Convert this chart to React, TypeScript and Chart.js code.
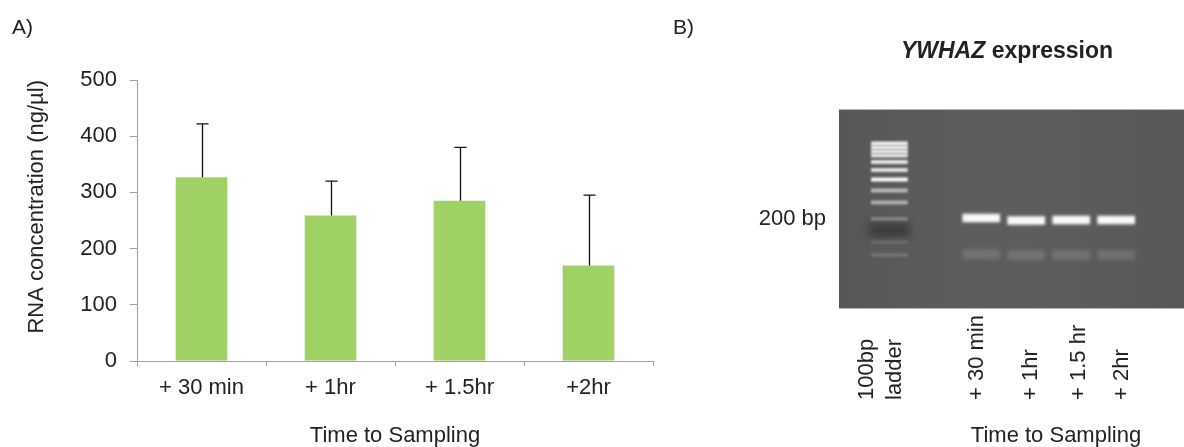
import React, { useEffect, useRef } from "react";
import { Chart, registerables } from "chart.js";

Chart.register(...registerables);

// ---------- Panel A data ----------
const categories = ["+ 30 min", "+ 1hr", "+ 1.5hr", "+2hr"];
const rnaMean = [327, 259, 285, 170];
const rnaSD = [95, 61, 95, 125];
const yTicksMax = 500;
const yTickStep = 100;

// ---------- Panel B (gel) data ----------
// lane positions (lane units), migration distance from gel top (px-like units)
const laneLabels = ["100bp\nladder", "+ 30 min", "+ 1hr", "+ 1.5 hr", "+ 2hr"];
const lanePos = [0, 2.04, 3.04, 4.04, 5.04];
const ladderBandPos = [34.5, 38.5, 42.5, 46.5, 53, 61, 70.5, 81.5, 93.5, 110, 133, 146];
const ladderBandIntensity = [0.92, 0.9, 0.88, 0.85, 0.85, 0.82, 0.97, 0.58, 0.52, 0.3, 0.13, 0.15];
const sampleBandPos = [109, 111.5, 111, 111];
const sampleFaintBandPos = [145, 146, 146, 146];
const ladderDarkSpot = [114, 128];
const markerBandPos = 110; // "200 bp"

const FONT = "'Liberation Sans', Arial, Helvetica, sans-serif";
const TEXT = "#222222";
const AXIS = "#a0a0a0";
const BAR = "#a0d164";

Chart.defaults.font.family = FONT;

export default function App() {
  const refA = useRef<HTMLCanvasElement>(null);
  const refB = useRef<HTMLCanvasElement>(null);

  useEffect(() => {
    document.body.style.margin = "0";
    const errorBars = {
      id: "errorBars",
      afterDatasetsDraw(chart: any) {
        const { ctx } = chart;
        const meta = chart.getDatasetMeta(0);
        const ys = chart.scales.y;
        ctx.save();
        ctx.strokeStyle = "#111";
        ctx.lineWidth = 1.3;
        meta.data.forEach((bar: any, i: number) => {
          const x = Math.round(bar.x) + 0.5;
          const yb = ys.getPixelForValue(rnaMean[i]);
          const yt = ys.getPixelForValue(rnaMean[i] + rnaSD[i]);
          ctx.beginPath();
          ctx.moveTo(x, yb);
          ctx.lineTo(x, yt);
          ctx.moveTo(x - 6, yt);
          ctx.lineTo(x + 6, yt);
          ctx.stroke();
        });
        ctx.restore();
      },
      afterDraw(chart: any) {
        const { ctx } = chart;
        ctx.save();
        ctx.fillStyle = TEXT;
        ctx.font = `21px ${FONT}`;
        ctx.textAlign = "left";
        ctx.textBaseline = "alphabetic";
        ctx.fillText("A)", 12, 33.5);
        ctx.restore();
      },
    };

    const chartA = new Chart(refA.current!, {
      type: "bar",
      data: {
        labels: categories,
        datasets: [
          {
            data: rnaMean,
            backgroundColor: BAR,
            borderWidth: 0,
            barPercentage: 0.4,
            categoryPercentage: 1.0,
          },
        ],
      },
      options: {
        responsive: false,
        animation: false,
        events: [],
        layout: { padding: { top: 80, right: 7, left: 0, bottom: 0 } },
        plugins: { legend: { display: false }, tooltip: { enabled: false }, title: { display: false } },
        scales: {
          x: {
            type: "category",
            offset: true,
            grid: { offset: true, drawOnChartArea: false, drawTicks: true, tickLength: 5, color: AXIS },
            border: { color: AXIS },
            ticks: { font: { size: 22 }, color: TEXT, padding: 9, maxRotation: 0 },
            title: {
              display: true,
              text: "Time to Sampling",
              color: TEXT,
              font: { size: 22, lineHeight: 1 },
              padding: { top: 0, bottom: 0 },
            },
            afterFit: (s: any) => {
              s.height = 86;
            },
          },
          y: {
            min: 0,
            max: yTicksMax,
            ticks: { stepSize: yTickStep, font: { size: 22 }, color: TEXT, padding: 13 },
            grid: { drawOnChartArea: false, drawTicks: true, tickLength: 7, color: AXIS },
            border: { color: AXIS },
            title: {
              display: true,
              text: "RNA concentration (ng/µl)",
              align: "end",
              color: TEXT,
              font: { size: 22 },
              padding: { top: 24 },
            },
            afterFit: (s: any) => {
              s.width = 137;
            },
          },
        },
      },
      plugins: [errorBars],
    } as any);

    // ---------- Gel ----------
    const BAND_W = 36;
    const gelPlugin = {
      id: "gel",
      beforeDatasetsDraw(chart: any) {
        const { ctx, chartArea: a } = chart;
        ctx.save();
        ctx.fillStyle = "#5a5a5a";
        ctx.fillRect(a.left, a.top, a.right - a.left, a.bottom - a.top);
        const g = ctx.createLinearGradient(a.left, 0, a.right, 0);
        g.addColorStop(0, "rgba(0,0,0,0.04)");
        g.addColorStop(0.5, "rgba(255,255,255,0.02)");
        g.addColorStop(1, "rgba(0,0,0,0.03)");
        ctx.fillStyle = g;
        ctx.fillRect(a.left, a.top, a.right - a.left, a.bottom - a.top);
        ctx.strokeStyle = "#b4b4b4";
        ctx.lineWidth = 1;
        ctx.beginPath();
        ctx.moveTo(a.left, a.top + 0.5);
        ctx.lineTo(a.right, a.top + 0.5);
        ctx.moveTo(a.left, a.bottom - 0.5);
        ctx.lineTo(a.right, a.bottom - 0.5);
        ctx.stroke();
        ctx.restore();
      },
      beforeDatasetDraw(chart: any, args: any) {
        const ds = chart.data.datasets[args.index];
        chart.ctx.save();
        chart.ctx.filter = `blur(${ds.blur || 0}px)`;
      },
      afterDatasetDraw(chart: any) {
        chart.ctx.restore();
      },
      afterDraw(chart: any) {
        const { ctx } = chart;
        const xs = chart.scales.x;
        const ys = chart.scales.y;
        ctx.save();
        ctx.fillStyle = TEXT;
        ctx.font = `21px ${FONT}`;
        ctx.textBaseline = "alphabetic";
        ctx.textAlign = "left";
        ctx.fillText("B)", 13, 33.5);

        // title
        ctx.font = `italic bold 23px ${FONT}`;
        const w1 = ctx.measureText("YWHAZ").width;
        ctx.font = `bold 23px ${FONT}`;
        const w2 = ctx.measureText(" expression").width;
        const x0 = 347 - (w1 + w2) / 2;
        ctx.font = `italic bold 23px ${FONT}`;
        ctx.fillText("YWHAZ", x0, 58);
        ctx.font = `bold 23px ${FONT}`;
        ctx.fillText(" expression", x0 + w1, 58);

        // 200 bp marker
        ctx.font = `22px ${FONT}`;
        ctx.textAlign = "right";
        ctx.textBaseline = "middle";
        ctx.fillText("200 bp", 166, ys.getPixelForValue(markerBandPos));

        // lane labels (rotated)
        const labelShift = [-8, -4, 5, 8, 6];
        laneLabels.forEach((lab, i) => {
          const lines = lab.split("\n");
          const cx = xs.getPixelForValue(lanePos[i]) + labelShift[i];
          lines.forEach((ln, j) => {
            const x = cx + (j - (lines.length - 1) / 2) * 28;
            ctx.save();
            ctx.translate(x, 400);
            ctx.rotate(-Math.PI / 2);
            ctx.textAlign = "left";
            ctx.textBaseline = "middle";
            ctx.fillText(ln, 0, 0);
            ctx.restore();
          });
        });

        // axis title
        ctx.textAlign = "center";
        ctx.textBaseline = "middle";
        ctx.fillText("Time to Sampling", 396, 436);
        ctx.restore();
      },
    };

    const sampleLanes = lanePos.slice(1);
    const chartB = new Chart(refB.current!, {
      type: "bar",
      data: {
        datasets: [
          {
            data: [{ x: lanePos[0], y: ladderDarkSpot }],
            backgroundColor: "rgba(20,20,20,0.42)",
            barThickness: 40,
            blur: 4,
          },
          {
            data: ladderBandPos.map((p) => ({ x: lanePos[0], y: [p - 1.7, p + 1.7] })),
            backgroundColor: ladderBandIntensity.map((a) => `rgba(255,255,255,${a})`),
            barThickness: BAND_W,
            blur: 0.9,
          },
          {
            data: sampleFaintBandPos.map((p, i) => ({ x: sampleLanes[i], y: [p - 4.5, p + 4.5] })),
            backgroundColor: "rgba(255,255,255,0.14)",
            barThickness: BAND_W + 1,
            blur: 2,
          },
          {
            data: sampleBandPos.map((p, i) => ({ x: sampleLanes[i], y: [p - 4, p + 4] })),
            backgroundColor: "rgba(253,253,253,0.98)",
            barThickness: BAND_W + 1,
            blur: 1.5,
          },
        ] as any,
      },
      options: {
        responsive: false,
        animation: false,
        events: [],
        layout: { padding: { left: 179, top: 109, right: 0, bottom: 138 } },
        plugins: { legend: { display: false }, tooltip: { enabled: false } },
        datasets: { bar: { grouped: false, borderWidth: 0 } },
        scales: {
          x: { type: "linear", display: false, offset: false, min: -1.12, max: 6.547 },
          y: { type: "linear", display: false, reverse: true, min: 0, max: 200 },
        },
      },
      plugins: [gelPlugin],
    } as any);

    return () => {
      chartA.destroy();
      chartB.destroy();
    };
  }, []);

  return (
    <div style={{ position: "absolute", left: 0, top: 0, width: 1184, height: 447, background: "#fff" }}>
      <canvas ref={refA} width={660} height={447} style={{ position: "absolute", left: 0, top: 0 }} />
      <canvas ref={refB} width={524} height={447} style={{ position: "absolute", left: 660, top: 0 }} />
    </div>
  );
}
